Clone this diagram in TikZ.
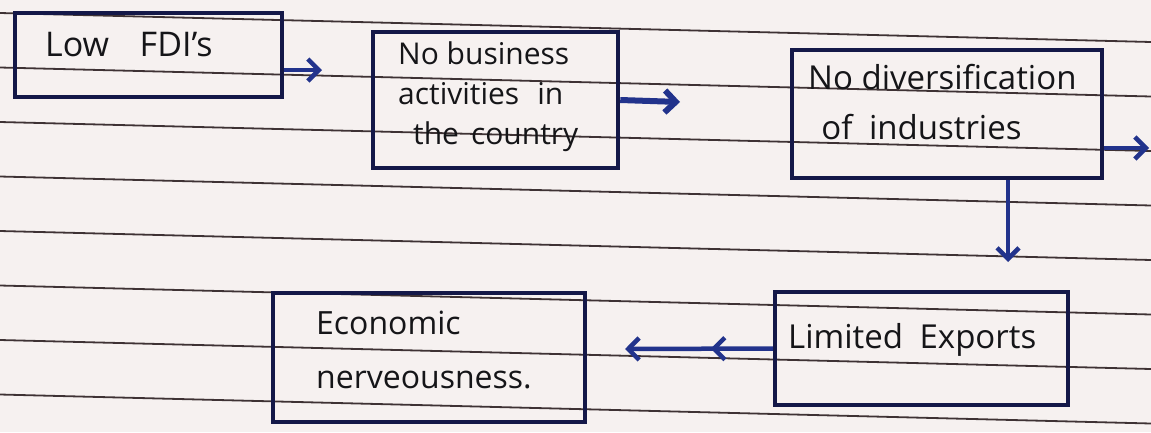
\documentclass[tikz,border=0pt]{standalone}
\usepackage{fontspec}
\setmainfont{Open Sans}
\usetikzlibrary{arrows.meta,decorations.markings}
\definecolor{paper}{HTML}{F6F1F0}
\definecolor{rulecol}{HTML}{3E3234}
\definecolor{ink}{HTML}{141848}
\definecolor{pen}{HTML}{22338C}
\definecolor{txt}{HTML}{151518}
\begin{document}
\begin{tikzpicture}[x=1pt,y=-1pt,
  box/.style={draw=ink, line width=4.5pt, rectangle, inner sep=0pt},
  lbl/.style={text=txt, anchor=west, align=left, inner sep=0pt},
  flow/.style={draw=pen, line width=4.5pt, -{Straight Barb[length=11pt,width=22pt]}},
  midtip/.style={postaction={decorate,decoration={markings,
      mark=at position #1 with {\arrow[pen,line width=4.5pt]{Straight Barb[length=11pt,width=22pt]}}}}},
  ruled/.style={draw=rulecol, line width=1.8pt}]
% paper and ruled lines
\fill[paper] (0,0) rectangle (1151,432);
\useasboundingbox (0,0) rectangle (1151,432);
\foreach \k in {0,...,7}
  \draw[ruled] (0,13+54.5*\k) -- (1151,13+54.5*\k+29);

% boxes
\node[box, minimum width=267pt, minimum height=84pt]  (b1) at (148.5,55)  {};
\node[box, minimum width=245pt, minimum height=136pt] (b2) at (495.5,100) {};
\node[box, minimum width=310pt, minimum height=128pt] (b3) at (947,114)   {};
\node[box, minimum width=293pt, minimum height=113pt] (b4) at (921.5,348.5) {};
\node[box, minimum width=312pt, minimum height=129pt] (b5) at (429,357.5) {};

% handwritten texts
\node[lbl, font=\fontsize{34}{40}\selectfont] (t1) at (45,45) {Low\hspace{0.9em}FDI's};
\node[lbl, font=\fontsize{30}{40}\selectfont] (t2) at (398,97)
  {No business\\activities\hspace{0.6em}in\\\hspace{0.5em}the\hspace{0.4em}country};
\node[lbl, font=\fontsize{33}{50}\selectfont] (t3) at (808,102)
  {No diversification\\\hspace{0.4em}of\hspace{0.5em}industries};
\node[lbl, font=\fontsize{33}{38}\selectfont] (t4) at (788,340) {Limited\hspace{0.5em}Exports};
\node[lbl, font=\fontsize{32}{54}\selectfont] (t5) at (316,350) {Economic\\nerveousness.};

% free ends of the connectors
\coordinate (e1) at (322,70);
\coordinate (e2) at (680,102);
\coordinate (e3) at (1149,148);
\coordinate (e4) at (1008,262);
\coordinate (e5) at (625,349);

% connectors
\draw[flow] (b1.east |- e1) -- (e1);
\draw[flow, line width=6pt] (b2.east) -- (e2);
\draw[flow] (b3.east |- e3) -- (e3);
\draw[flow] (b3.south -| e4) -- (e4);
\draw[flow, midtip=0.42] (b4.west) -- (e5);
\end{tikzpicture}
\end{document}
